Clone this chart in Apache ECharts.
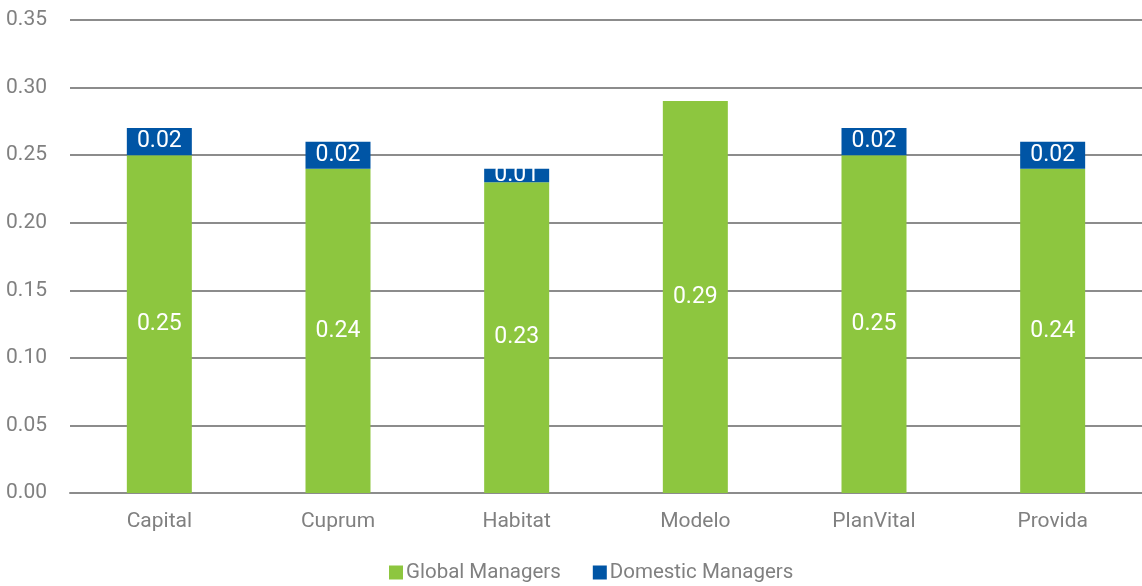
<!DOCTYPE html>
<html>
<head>
<meta charset="utf-8">
<script src="https://cdn.jsdelivr.net/npm/echarts@6/dist/echarts.min.js"></script>
<style>
html,body{margin:0;padding:0;background:#fff;}
#c{width:1142px;height:586px;}
</style>
</head>
<body>
<div id="c"></div>
<script>
const categories = ["Capital", "Cuprum", "Habitat", "Modelo", "PlanVital", "Provida"];
const globalManagers = [0.25, 0.24, 0.23, 0.29, 0.25, 0.24];
const domesticManagers = [0.02, 0.02, 0.01, 0, 0.02, 0.02];
const yTicks = [0, 0.05, 0.10, 0.15, 0.20, 0.25, 0.30, 0.35];

const FONT = '"Liberation Sans Narrow", "Arial Narrow", Roboto, sans-serif';
const chart = echarts.init(document.getElementById('c'));
chart.setOption({
  animation: false,
  textStyle: { fontFamily: FONT },
  grid: { left: 70, right: 0, top: 20, bottom: 93, containLabel: false, outerBoundsMode: 'none' },
  legend: {
    top: 557, left: 384,
    itemWidth: 14, itemHeight: 14, itemGap: 32,
    icon: 'rect',
    textStyle: { color: '#808080', fontSize: 20.5, fontFamily: FONT, padding: [0, 0, 0, -2] },
    data: ['Global Managers', 'Domestic Managers']
  },
  xAxis: {
    type: 'category',
    data: categories,
    axisLine: { show: true, lineStyle: { color: '#8c8c8c', width: 2 } },
    axisTick: { show: false },
    axisLabel: { color: '#808080', fontSize: 21, margin: 18, fontFamily: FONT }
  },
  yAxis: {
    type: 'value',
    min: yTicks[0], max: yTicks[yTicks.length - 1], interval: 0.05,
    axisLine: { show: false },
    axisTick: { show: false },
    splitLine: { lineStyle: { color: '#8c8c8c', width: 2 } },
    axisLabel: {
      color: '#808080', fontSize: 21, margin: 23, fontFamily: FONT,
      formatter: v => v.toFixed(2)
    }
  },
  series: [
    {
      name: 'Global Managers', type: 'bar', stack: 'a',
      data: globalManagers, barWidth: 65,
      itemStyle: { color: '#8DC63F' },
      label: { show: true, position: 'inside', color: '#fff', fontSize: 23, fontFamily: FONT,
        formatter: p => p.value.toFixed(2) }
    },
    {
      name: 'Domestic Managers', type: 'bar', stack: 'a',
      data: domesticManagers, barWidth: 65,
      itemStyle: { color: '#0055A5' },
      label: { show: true, position: 'inside', color: '#fff', fontSize: 23, fontFamily: FONT,
        formatter: p => p.value ? p.value.toFixed(2) : '' }
    }
  ]
});
</script>
</body>
</html>
